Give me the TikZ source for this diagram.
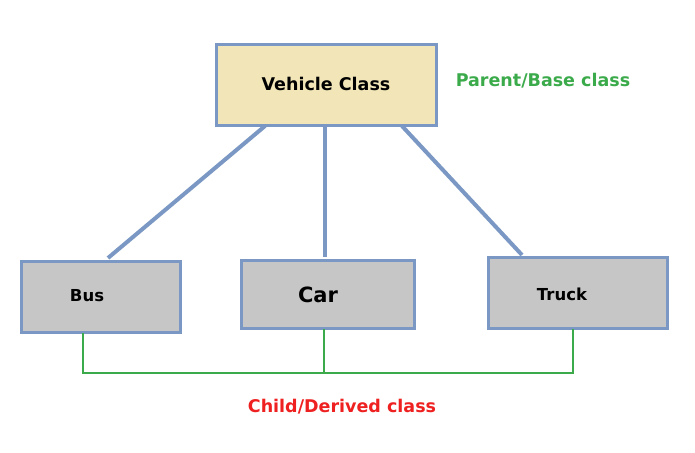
\documentclass[tikz,border=0pt]{standalone}
\usepackage{fontspec}
\setmainfont{DejaVu Sans}
\begin{document}
\begin{tikzpicture}[x=1pt,y=-1pt,
  box/.style={draw=bl,line width=3pt,fill=gr,anchor=north west,inner sep=0pt},
  conn/.style={draw=bl,line width=4pt},
  gl/.style={draw=gn,line width=2pt},
  lbl/.style={font=\bfseries\fontsize{#1}{#1}\selectfont}]
\definecolor{bl}{HTML}{7B98C4}
\definecolor{gr}{HTML}{C6C6C6}
\definecolor{bg}{HTML}{F2E6B8}
\definecolor{gn}{HTML}{3BAA4A}
\definecolor{rd}{HTML}{EE2020}
\useasboundingbox (0,0) rectangle (695,452);
\node[box,fill=bg,minimum width=220pt,minimum height=81pt] (v) at (215,43) {};
\node[lbl=17.5] at (326,84) {Vehicle Class};
\node[box,minimum width=159pt,minimum height=71pt] (bus) at (20,260) {};
\node[box,minimum width=173pt,minimum height=68pt] (car) at (240,259) {};
\node[box,minimum width=179pt,minimum height=71pt] (truck) at (487,256) {};
\node[lbl=16.5] at (87,296) {Bus};
\node[lbl=21] at (318,295) {Car};
\node[lbl=16.5] at (562,294) {Truck};
\coordinate (v1) at (265,126); \coordinate (v2) at (325,126); \coordinate (v3) at (402,126);
\coordinate (b1) at (108,258); \coordinate (c1) at (325,257); \coordinate (t1) at (522,255);
\draw[conn] (v1) -- (b1);
\draw[conn] (v2) -- (c1);
\draw[conn] (v3) -- (t1);
\coordinate (g1) at (83,333); \coordinate (g2) at (324,329); \coordinate (g3) at (573,329);
\coordinate (h1) at (83,373); \coordinate (h2) at (324,373); \coordinate (h3) at (573,373);
\draw[gl] (g1) -- (h1) -- (h3) -- (g3);
\draw[gl] (g2) -- (h2);
\node[lbl=17.5,text=gn] at (543,81) {Parent/Base class};
\node[lbl=17.5,text=rd] at (342,407) {Child/Derived class};
\end{tikzpicture}
\end{document}
